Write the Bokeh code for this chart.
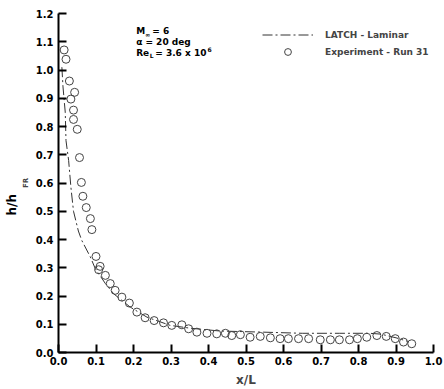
from bokeh.plotting import figure
from bokeh.models import (Range1d, FixedTicker, PrintfTickFormatter, Label,
                          Legend, LegendItem, Title)
from bokeh.embed import file_html
from bokeh.resources import INLINE

# ---- data ----
x_lam = [0.009, 0.012, 0.018, 0.020, 0.027, 0.033, 0.040, 0.053, 0.062, 0.085,
         0.098, 0.125, 0.147, 0.191, 0.236, 0.298, 0.351, 0.431, 0.547, 0.65,
         0.75, 0.83, 0.86, 0.90, 0.93]
y_lam = [1.01, 0.94, 0.85, 0.75, 0.68, 0.586, 0.50, 0.43, 0.397, 0.338,
         0.297, 0.244, 0.208, 0.161, 0.125, 0.096, 0.086, 0.076, 0.072, 0.068,
         0.068, 0.068, 0.065, 0.052, 0.040]

x_exp = [0.015, 0.020, 0.029, 0.033, 0.043, 0.040, 0.040, 0.050, 0.056, 0.061,
         0.065, 0.074, 0.085, 0.089, 0.100, 0.107, 0.111, 0.125, 0.138, 0.151,
         0.169, 0.189, 0.209, 0.231, 0.255, 0.280, 0.302, 0.329, 0.347, 0.369,
         0.396, 0.422, 0.445, 0.462, 0.485, 0.511, 0.538, 0.565, 0.591, 0.613,
         0.640, 0.667, 0.698, 0.725, 0.749, 0.776, 0.797, 0.822, 0.849, 0.874,
         0.898, 0.920, 0.942]
y_exp = [1.071, 1.038, 0.961, 0.897, 0.921, 0.858, 0.825, 0.790, 0.690, 0.602,
         0.553, 0.513, 0.474, 0.435, 0.340, 0.293, 0.305, 0.273, 0.244, 0.220,
         0.196, 0.175, 0.143, 0.123, 0.113, 0.105, 0.096, 0.098, 0.084, 0.072,
         0.068, 0.066, 0.068, 0.060, 0.063, 0.054, 0.057, 0.052, 0.049, 0.049,
         0.049, 0.049, 0.045, 0.045, 0.045, 0.045, 0.049, 0.054, 0.060, 0.057,
         0.049, 0.037, 0.031]

x_ticks = [0.0, 0.1, 0.2, 0.3, 0.4, 0.5, 0.6, 0.7, 0.8, 0.9, 1.0]
y_ticks = [0.0, 0.1, 0.2, 0.3, 0.4, 0.5, 0.6, 0.7, 0.8, 0.9, 1.0, 1.1, 1.2]

FONT = "DejaVu Sans"

p = figure(width=444, height=389, output_backend="svg", toolbar_location=None,
           x_range=Range1d(0, 1.0), y_range=Range1d(0, 1.2),
           min_border_left=58, min_border_right=11, min_border_top=13,
           min_border_bottom=37)
p.outline_line_color = None
p.xgrid.visible = False
p.ygrid.visible = False
p.background_fill_color = "white"
p.border_fill_color = "white"

for ax in (p.xaxis[0], p.yaxis[0]):
    ax.axis_line_width = 2
    ax.axis_line_color = "black"
    ax.major_tick_in = 8
    ax.major_tick_out = 0
    ax.major_tick_line_width = 2
    ax.major_tick_line_color = "black"
    ax.minor_tick_line_color = None
    ax.major_label_text_font = FONT
    ax.major_label_text_font_style = "bold"
    ax.major_label_text_font_size = "10px"
    ax.major_label_text_color = "black"
    ax.formatter = PrintfTickFormatter(format="%.1f")

p.xaxis[0].ticker = FixedTicker(ticks=x_ticks)
p.yaxis[0].ticker = FixedTicker(ticks=y_ticks)
p.xaxis[0].major_label_standoff = 4
p.yaxis[0].major_label_standoff = 5

p.xaxis[0].axis_label = "x/L"
p.xaxis[0].axis_label_text_font = FONT
p.xaxis[0].axis_label_text_font_style = "bold"
p.xaxis[0].axis_label_text_font_size = "12px"
p.xaxis[0].axis_label_standoff = 5

# y label: subscript "FR" as axis label, "h/h" as an outer title
p.yaxis[0].axis_label = "FR"
p.yaxis[0].axis_label_text_font = FONT
p.yaxis[0].axis_label_text_font_style = "bold"
p.yaxis[0].axis_label_text_font_size = "7px"
p.yaxis[0].axis_label_standoff = 3
p.add_layout(Title(text="h/h", align="left", offset=137, standoff=0,
                   text_font=FONT, text_font_style="bold",
                   text_font_size="12px", text_color="black"), "left")

lam = p.line(x_lam, y_lam, line_color="#333333", line_width=1,
             line_dash="10 3 2 3")
exp = p.scatter(x_exp, y_exp, marker="circle", size=8, fill_color=None,
                line_color="#444444", line_width=1)

legend = Legend(items=[LegendItem(label="LATCH - Laminar", renderers=[lam]),
                       LegendItem(label="Experiment - Run 31", renderers=[exp])],
                location=(204, 292), glyph_width=51, glyph_height=17,
                label_height=17, label_standoff=12, padding=0, margin=0,
                spacing=0, border_line_color=None, background_fill_alpha=0,
                label_text_font=FONT, label_text_font_style="bold",
                label_text_font_size="9px")
p.add_layout(legend)

def lab(x, y, text, size="9px"):
    p.add_layout(Label(x=x, y=y, text=text, text_font=FONT,
                       text_font_style="bold", text_font_size=size,
                       text_color="black"))

# annotations (data coordinates)
lab(0.207, 1.119, "M")
lab(0.231, 1.112, "\u221e", size="6px")
lab(0.250, 1.119, "= 6")
lab(0.207, 1.082, "\u03b1 = 20 deg")
lab(0.207, 1.044, "Re")
lab(0.243, 1.038, "L", size="6px")
lab(0.258, 1.044, "= 3.6 x 10")
lab(0.397, 1.062, "6", size="6px")

open("out.html", "w").write(file_html(p, INLINE))
